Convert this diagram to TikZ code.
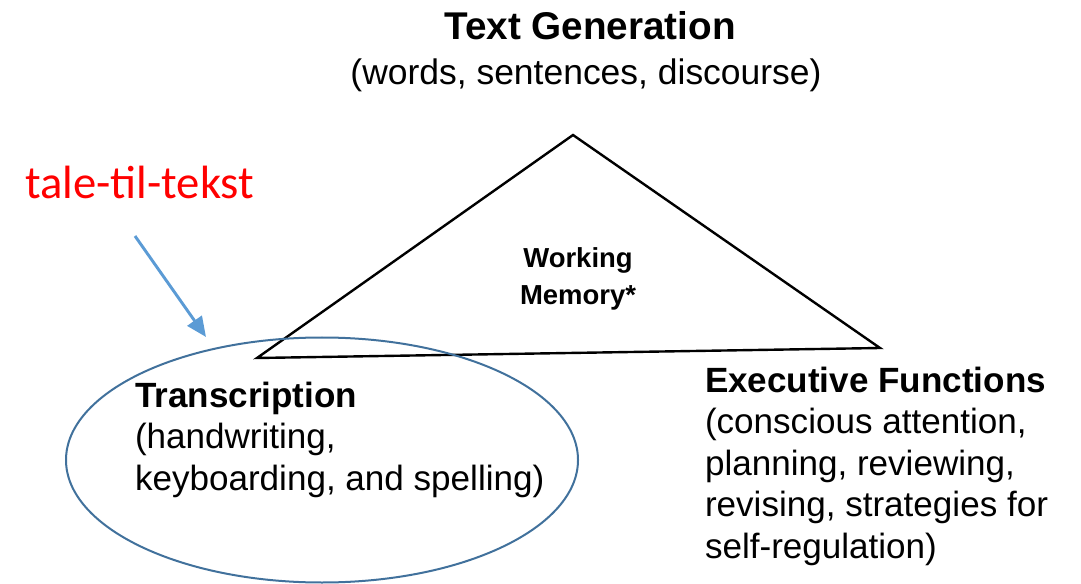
\documentclass[tikz,border=0pt]{standalone}
\usepackage{fontspec}
\setmainfont{Liberation Sans}
\newfontfamily\calfont{Carlito}
\usetikzlibrary{arrows.meta,shapes.geometric}
\definecolor{ellblue}{HTML}{41719C}
\definecolor{arrblue}{HTML}{5B9BD5}
\begin{document}
\begin{tikzpicture}[x=0.75pt,y=-0.75pt,
  lbl/.style={inner sep=0pt,outer sep=0pt},
  body/.style={lbl,align=left,font=\fontsize{26.3}{31.1}\selectfont},
  tri/.style={line width=1.8pt,line join=miter},
  circ/.style={draw=ellblue,line width=1.5pt},
  pointer/.style={draw=arrblue,line width=2.2pt,-{Triangle[length=15pt,width=13pt]}}]
\useasboundingbox (0,0) rectangle (1081,584);
% triangle
\coordinate (apex) at (573,135);
\coordinate (right) at (880,348);
\coordinate (left) at (257,358);
\draw[tri] (apex) -- (right) -- (left) -- cycle;
% titles
\node[lbl,anchor=base] (tg) at (590,40) {\fontsize{29}{34}\selectfont\bfseries Text Generation};
\node[lbl,anchor=base] (tgs) at (586,85) {\fontsize{26.6}{31}\selectfont (words, sentences, discourse)};
\node[lbl,anchor=base,font=\fontsize{20.6}{28.5}\selectfont\bfseries] (wm1) at (578,268) {Working};
\node[lbl,anchor=base,font=\fontsize{20.6}{28.5}\selectfont\bfseries] (wm2) at (578,305) {Memory*};
% transcription (anchor at baseline of last line)
\node[body,anchor=base west] (tr) at (135,490) {\textbf{Transcription}\\(handwriting,\\keyboarding, and spelling)};
% executive (anchor at baseline of last line)
\node[body,anchor=base west] (ef) at (705,558) {\textbf{Executive Functions}\\(conscious attention,\\planning, reviewing,\\revising, strategies for\\self-regulation)};
% ellipse
\node[circ,ellipse,minimum width=512*0.75pt,minimum height=245*0.75pt,inner sep=0pt] (ell) at (322,460) {};
% red label and arrow
\node[lbl,anchor=base west,text=red,font=\calfont\fontsize{35}{42}\selectfont] (stt) at (25,199) {tale-til-tekst};
\coordinate (from) at (135,236);
\coordinate (to) at (206,337);
\draw[pointer] (from) -- (to);
\end{tikzpicture}
\end{document}
